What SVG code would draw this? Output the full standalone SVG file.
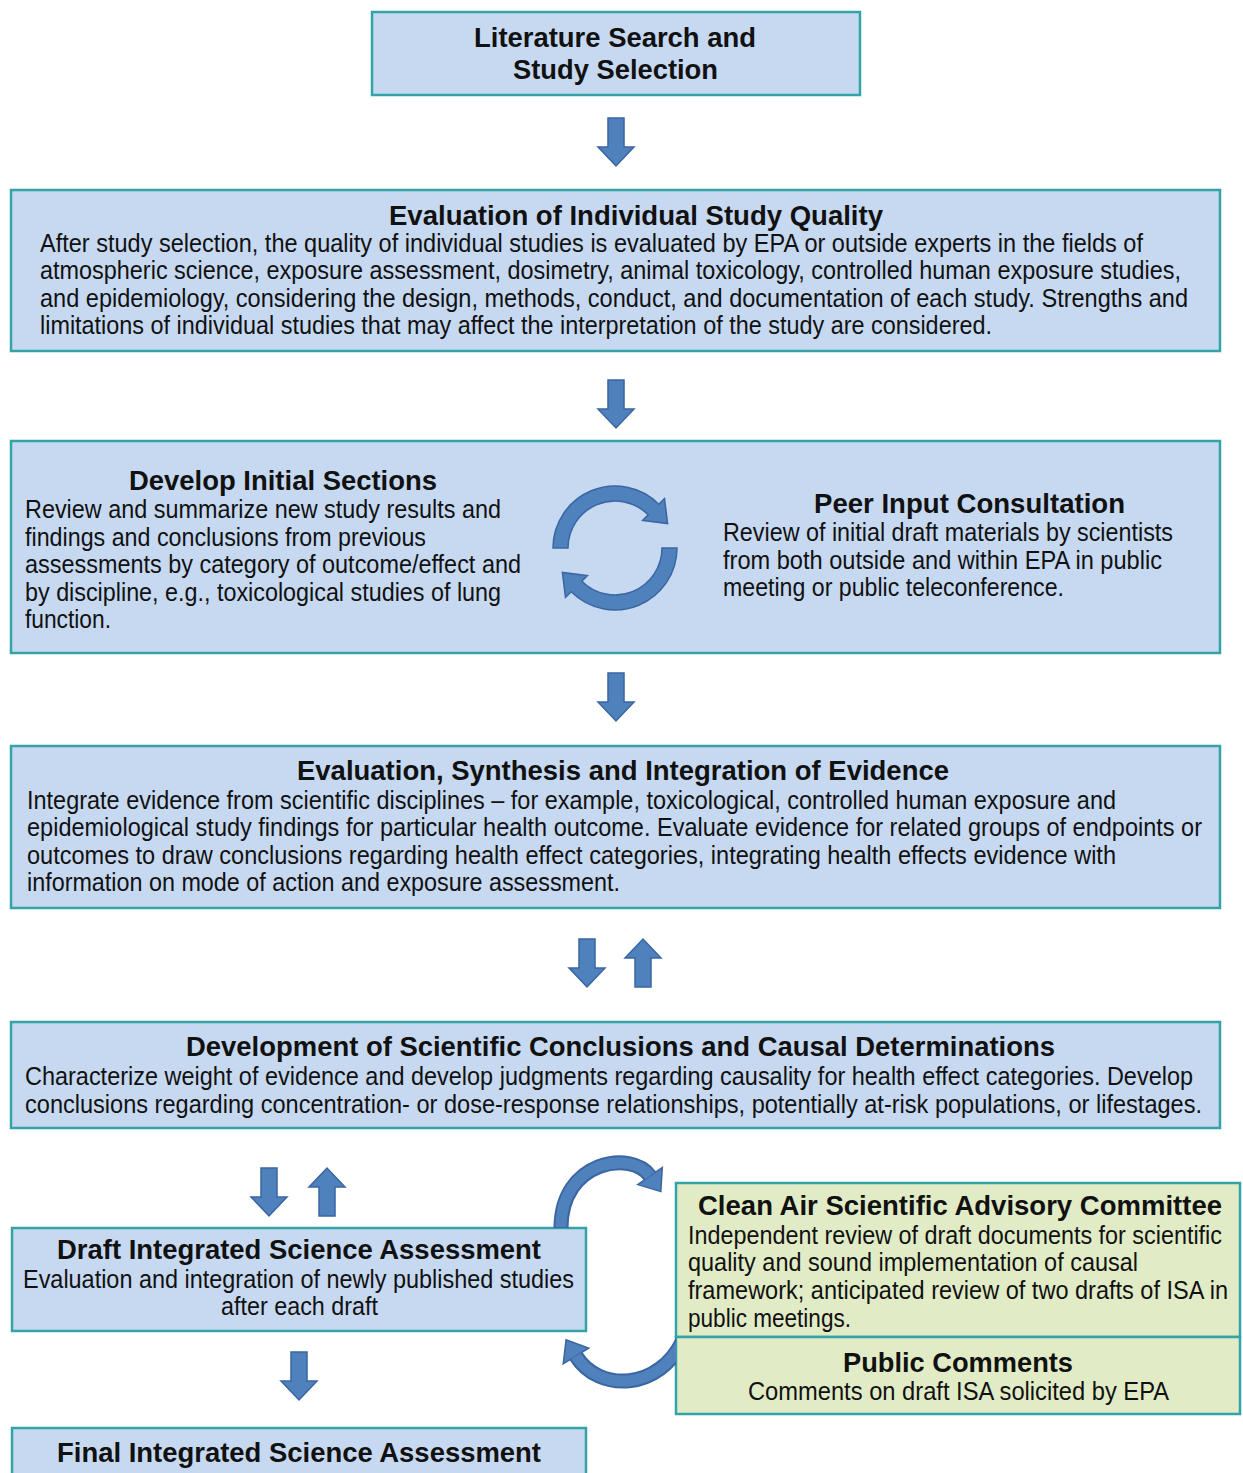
<svg xmlns="http://www.w3.org/2000/svg" xmlns:xlink="http://www.w3.org/1999/xlink" width="1243" height="1473" viewBox="0 0 1243 1473">
<style>
.box{fill:#c6d9f1;stroke:#34a3a8;stroke-width:2.5}
.gbox{fill:#e1ecc6;stroke:#34a3a8;stroke-width:2.5}
.t{font-family:"Liberation Sans Narrow","Liberation Sans",Arial,sans-serif;font-size:28px;font-weight:bold;fill:#111}
.b{font-family:"Liberation Sans Narrow","Liberation Sans",Arial,sans-serif;font-size:25px;fill:#111}
.arr{fill:#4f81bd;stroke:#3a66a2;stroke-width:1.5;stroke-linejoin:miter}
.ol{fill:none;stroke:#3a66a2;stroke-width:15}
.in{fill:none;stroke:#4f81bd;stroke-width:11}
</style>
<defs>
<path id="dn" class="arr" d="M-8,0 H8 V29 H18 L0,48 L-18,29 H-8 Z"/>
<path id="up" class="arr" d="M-8,48 H8 V19 H18 L0,0 L-18,19 H-8 Z"/>
<path id="cyc" class="arr" d="M553,548 A62,62 0 0 1 658.8,504.2 L664.5,498.5 L667.6,523.6 L642.6,520.4 L648.2,514.8 A47,47 0 0 0 568,548 Z"/>
<clipPath id="leftOfBox"><rect x="0" y="0" width="676" height="1473"/></clipPath>
</defs>
<rect width="1243" height="1473" fill="#ffffff"/>

<g id="literature-search">
<rect class="box" x="372" y="12" width="488" height="83"/>
<text class="t" x="474" y="47" textLength="282" lengthAdjust="spacingAndGlyphs">Literature Search and</text>
<text class="t" x="513" y="79" textLength="205" lengthAdjust="spacingAndGlyphs">Study Selection</text>
</g>

<g id="study-quality">
<rect class="box" x="11" y="190" width="1209" height="161"/>
<text class="t" x="389" y="225" textLength="494" lengthAdjust="spacingAndGlyphs">Evaluation of Individual Study Quality</text>
<text class="b" x="40" y="252" textLength="1103" lengthAdjust="spacingAndGlyphs">After study selection, the quality of individual  studies is evaluated  by EPA or outside experts in the fields of</text>
<text class="b" x="40" y="279" textLength="1141" lengthAdjust="spacingAndGlyphs">atmospheric science, exposure assessment, dosimetry, animal toxicology, controlled human exposure studies,</text>
<text class="b" x="40" y="307" textLength="1148" lengthAdjust="spacingAndGlyphs">and epidemiology,  considering  the design, methods, conduct, and documentation of each study. Strengths and</text>
<text class="b" x="40" y="334" textLength="952" lengthAdjust="spacingAndGlyphs">limitations  of individual  studies that may affect the interpretation of the study are considered.</text>
</g>

<g id="initial-sections">
<rect class="box" x="11" y="441" width="1209" height="212"/>
<text class="t" x="129" y="490" textLength="308" lengthAdjust="spacingAndGlyphs">Develop Initial Sections</text>
<text class="b" x="25" y="518" textLength="476" lengthAdjust="spacingAndGlyphs">Review and summarize  new study results and</text>
<text class="b" x="25" y="546" textLength="401" lengthAdjust="spacingAndGlyphs">findings and conclusions  from previous</text>
<text class="b" x="25" y="573" textLength="496" lengthAdjust="spacingAndGlyphs">assessments by category of outcome/effect and</text>
<text class="b" x="25" y="601" textLength="476" lengthAdjust="spacingAndGlyphs">by discipline, e.g., toxicological  studies of lung</text>
<text class="b" x="25" y="628" textLength="86" lengthAdjust="spacingAndGlyphs">function.</text>
</g>

<g id="peer-input">
<text class="t" x="814" y="513" textLength="311" lengthAdjust="spacingAndGlyphs">Peer Input Consultation</text>
<text class="b" x="723" y="541" textLength="450" lengthAdjust="spacingAndGlyphs">Review of initial draft materials by scientists</text>
<text class="b" x="723" y="569" textLength="439" lengthAdjust="spacingAndGlyphs">from both outside and within EPA in public</text>
<text class="b" x="723" y="596" textLength="341" lengthAdjust="spacingAndGlyphs">meeting  or public  teleconference.</text>
</g>

<g id="evidence-integration">
<rect class="box" x="11" y="746" width="1209" height="162"/>
<text class="t" x="297" y="780" textLength="652" lengthAdjust="spacingAndGlyphs">Evaluation, Synthesis and Integration of Evidence</text>
<text class="b" x="27" y="809" textLength="1089" lengthAdjust="spacingAndGlyphs">Integrate evidence  from scientific disciplines  – for example, toxicological,  controlled human exposure and</text>
<text class="b" x="27" y="836" textLength="1175" lengthAdjust="spacingAndGlyphs">epidemiological  study findings for particular health outcome. Evaluate  evidence  for related groups of endpoints or</text>
<text class="b" x="27" y="864" textLength="1089" lengthAdjust="spacingAndGlyphs">outcomes  to draw conclusions regarding health effect categories, integrating health effects evidence  with</text>
<text class="b" x="27" y="891" textLength="593" lengthAdjust="spacingAndGlyphs">information on mode of action and exposure assessment.</text>
</g>

<g id="conclusions">
<rect class="box" x="11" y="1022" width="1209" height="106"/>
<text class="t" x="186" y="1056" textLength="869" lengthAdjust="spacingAndGlyphs">Development of Scientific Conclusions and Causal Determinations</text>
<text class="b" x="25" y="1085" textLength="1168" lengthAdjust="spacingAndGlyphs">Characterize  weight of evidence  and develop  judgments  regarding causality for health effect categories. Develop</text>
<text class="b" x="25" y="1113" textLength="1177" lengthAdjust="spacingAndGlyphs">conclusions  regarding  concentration-  or dose-response  relationships,  potentially  at-risk populations,  or  lifestages.</text>
</g>

<g id="draft-isa">
<rect class="box" x="12" y="1228" width="574" height="103"/>
<text class="t" x="57" y="1259" textLength="484" lengthAdjust="spacingAndGlyphs">Draft Integrated Science Assessment</text>
<text class="b" x="23" y="1288" textLength="551" lengthAdjust="spacingAndGlyphs">Evaluation  and integration of newly published studies</text>
<text class="b" x="221" y="1315" textLength="157" lengthAdjust="spacingAndGlyphs">after each draft</text>
</g>

<g id="casac">
<rect class="gbox" x="676" y="1183" width="564" height="154"/>
<text class="t" x="698" y="1215" textLength="524" lengthAdjust="spacingAndGlyphs">Clean Air Scientific Advisory Committee</text>
<text class="b" x="688" y="1244" textLength="534" lengthAdjust="spacingAndGlyphs">Independent  review of draft documents  for scientific</text>
<text class="b" x="688" y="1271" textLength="450" lengthAdjust="spacingAndGlyphs">quality  and sound implementation  of causal</text>
<text class="b" x="688" y="1299" textLength="540" lengthAdjust="spacingAndGlyphs">framework; anticipated  review of two drafts of ISA in</text>
<text class="b" x="688" y="1327" textLength="163" lengthAdjust="spacingAndGlyphs">public  meetings.</text>
</g>

<g id="public-comments">
<rect class="gbox" x="676" y="1337" width="564" height="77"/>
<text class="t" x="843" y="1372" textLength="230" lengthAdjust="spacingAndGlyphs">Public Comments</text>
<text class="b" x="748" y="1400" textLength="421" lengthAdjust="spacingAndGlyphs">Comments  on draft ISA solicited  by EPA</text>
</g>

<g id="final-isa">
<rect class="box" x="12" y="1428" width="574" height="60"/>
<text class="t" x="57" y="1462" textLength="484" lengthAdjust="spacingAndGlyphs">Final Integrated Science Assessment</text>
</g>

<g id="connectors">
<use xlink:href="#dn" href="#dn" transform="translate(616,118)"/>
<use xlink:href="#dn" href="#dn" transform="translate(616,380)"/>
<use xlink:href="#dn" href="#dn" transform="translate(616,673)"/>
<use xlink:href="#cyc" href="#cyc"/>
<use xlink:href="#cyc" href="#cyc" transform="rotate(180 615 548)"/>
<use xlink:href="#dn" href="#dn" transform="translate(587,939)"/>
<use xlink:href="#up" href="#up" transform="translate(643,939)"/>
<use xlink:href="#dn" href="#dn" transform="translate(269,1168)"/>
<use xlink:href="#up" href="#up" transform="translate(327,1168)"/>
<use xlink:href="#dn" href="#dn" transform="translate(299,1352)"/>
<!-- draft to CASAC -->
<path class="ol" d="M561,1228 C561,1160 632,1150 650,1176"/>
<polygon class="arr" points="637.7,1184.6 662.3,1167.4 660.8,1191.6"/>
<path class="in" d="M561,1227 C561,1160 632,1150 650,1176"/>
<!-- public comments back to draft -->
<g clip-path="url(#leftOfBox)">
<path class="ol" d="M684,1338 C660,1392 598,1392 576,1356"/>
<polygon class="arr" points="588.8,1348.2 563.2,1363.8 566.1,1339.8"/>
<path class="in" d="M684,1338 C660,1392 598,1392 576,1356"/>
</g>
</g>
</svg>
